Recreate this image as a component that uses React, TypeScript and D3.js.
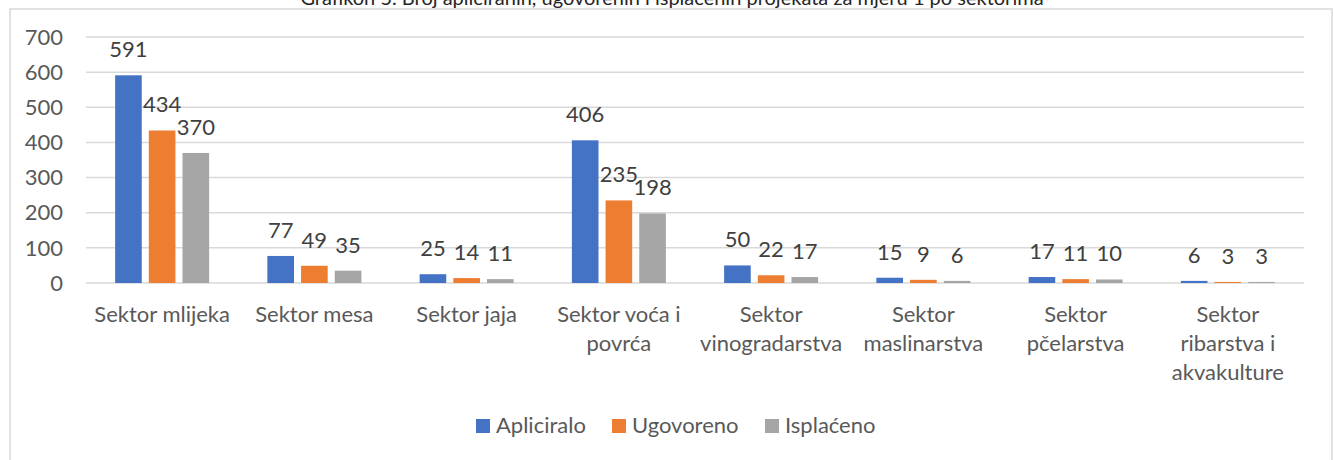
import React from 'react';
import * as d3 from 'd3';

const categories = [
  'Sektor mlijeka',
  'Sektor mesa',
  'Sektor jaja',
  'Sektor voća i povrća',
  'Sektor vinogradarstva',
  'Sektor maslinarstva',
  'Sektor pčelarstva',
  'Sektor ribarstva i akvakulture',
];

// how the category names wrap under the axis
const categoryLines = [
  ['Sektor mlijeka'],
  ['Sektor mesa'],
  ['Sektor jaja'],
  ['Sektor voća i', 'povrća'],
  ['Sektor', 'vinogradarstva'],
  ['Sektor', 'maslinarstva'],
  ['Sektor', 'pčelarstva'],
  ['Sektor', 'ribarstva i', 'akvakulture'],
];

const seriesNames = ['Apliciralo', 'Ugovoreno', 'Isplaćeno'];
const apliciralo = [591, 77, 25, 406, 50, 15, 17, 6];
const ugovoreno = [434, 49, 14, 235, 22, 9, 11, 3];
const isplaceno = [370, 35, 11, 198, 17, 6, 10, 3];
const yTicks = [0, 100, 200, 300, 400, 500, 600, 700];

const COLORS = ['#4472C4', '#ED7D31', '#A5A5A5'];
const TEXT = '#595959';
const GRID = '#D9D9D9';
const FONT = 'Lato, "Open Sans", sans-serif';
const FS = 22;

const W = 1333;
const H = 460;

export default function App() {
  const seriesValues = [apliciralo, ugovoreno, isplaceno];

  const x0 = d3.scaleBand<string>().domain(categories).range([86, 1304]).padding(0);
  const groupW = 94;
  const x1 = d3
    .scaleBand<string>()
    .domain(seriesNames)
    .range([0, groupW])
    .paddingInner(0.21)
    .paddingOuter(0);
  const y = d3.scaleLinear().domain([0, 700]).range([283, 37]);

  const groupStart = (c: string) => (x0(c) || 0) + x0.bandwidth() / 2 - groupW / 2;

  // legend layout
  const legendItems = [
    { name: seriesNames[0], x: 476 },
    { name: seriesNames[1], x: 612 },
    { name: seriesNames[2], x: 765 },
  ];

  return (
    <div style={{ position: 'absolute', left: 0, top: 0 }}>
      <svg width={W} height={H} style={{ display: 'block', fontFamily: FONT }}>
        <rect x={0} y={0} width={W} height={H} fill="#ffffff" />
        {/* chart frame */}
        <rect x={10} y={9} width={1322} height={H} fill="none" stroke={GRID} strokeWidth={1.5} />

        {/* title, cut at the top edge as in the source */}
        <text x={672} y={5} textAnchor="middle" fontSize={20} fill="#262626">
          Grafikon 5. Broj apliciranih, ugovorenih i isplaćenih projekata za mjeru 1 po sektorima
        </text>

        {/* gridlines + y tick labels */}
        {yTicks.map((t) => (
          <g key={t}>
            <line x1={86} x2={1304} y1={y(t)} y2={y(t)} stroke={GRID} strokeWidth={1.5} />
            <text x={63} y={y(t)} dy="0.35em" textAnchor="end" fontSize={FS} fill={TEXT}>
              {t}
            </text>
          </g>
        ))}

        {/* bars */}
        {categories.map((c, i) => (
          <g key={c} transform={`translate(${groupStart(c)},0)`}>
            {seriesNames.map((s, k) => {
              const v = seriesValues[k][i];
              const bx = x1(s) || 0;
              return (
                <g key={s}>
                  <rect
                    x={bx}
                    y={y(v)}
                    width={x1.bandwidth()}
                    height={y(0) - y(v)}
                    fill={COLORS[k]}
                  />
                  <text
                    x={bx + x1.bandwidth() / 2}
                    y={y(v) - 18}
                    textAnchor="middle"
                    fontSize={FS}
                    fill="#404040"
                  >
                    {v}
                  </text>
                </g>
              );
            })}
          </g>
        ))}

        {/* category labels */}
        {categories.map((c, i) => (
          <text
            key={c}
            x={(x0(c) || 0) + x0.bandwidth() / 2}
            y={322}
            textAnchor="middle"
            fontSize={FS}
            fill={TEXT}
          >
            {categoryLines[i].map((ln, j) => (
              <tspan key={j} x={(x0(c) || 0) + x0.bandwidth() / 2} y={322 + j * 29}>
                {ln}
              </tspan>
            ))}
          </text>
        ))}

        {/* legend */}
        {legendItems.map((it, k) => (
          <g key={it.name}>
            <rect x={it.x} y={419} width={14} height={14} fill={COLORS[k]} />
            <text x={it.x + 20} y={433} fontSize={FS} fill={TEXT}>
              {it.name}
            </text>
          </g>
        ))}
      </svg>
    </div>
  );
}
